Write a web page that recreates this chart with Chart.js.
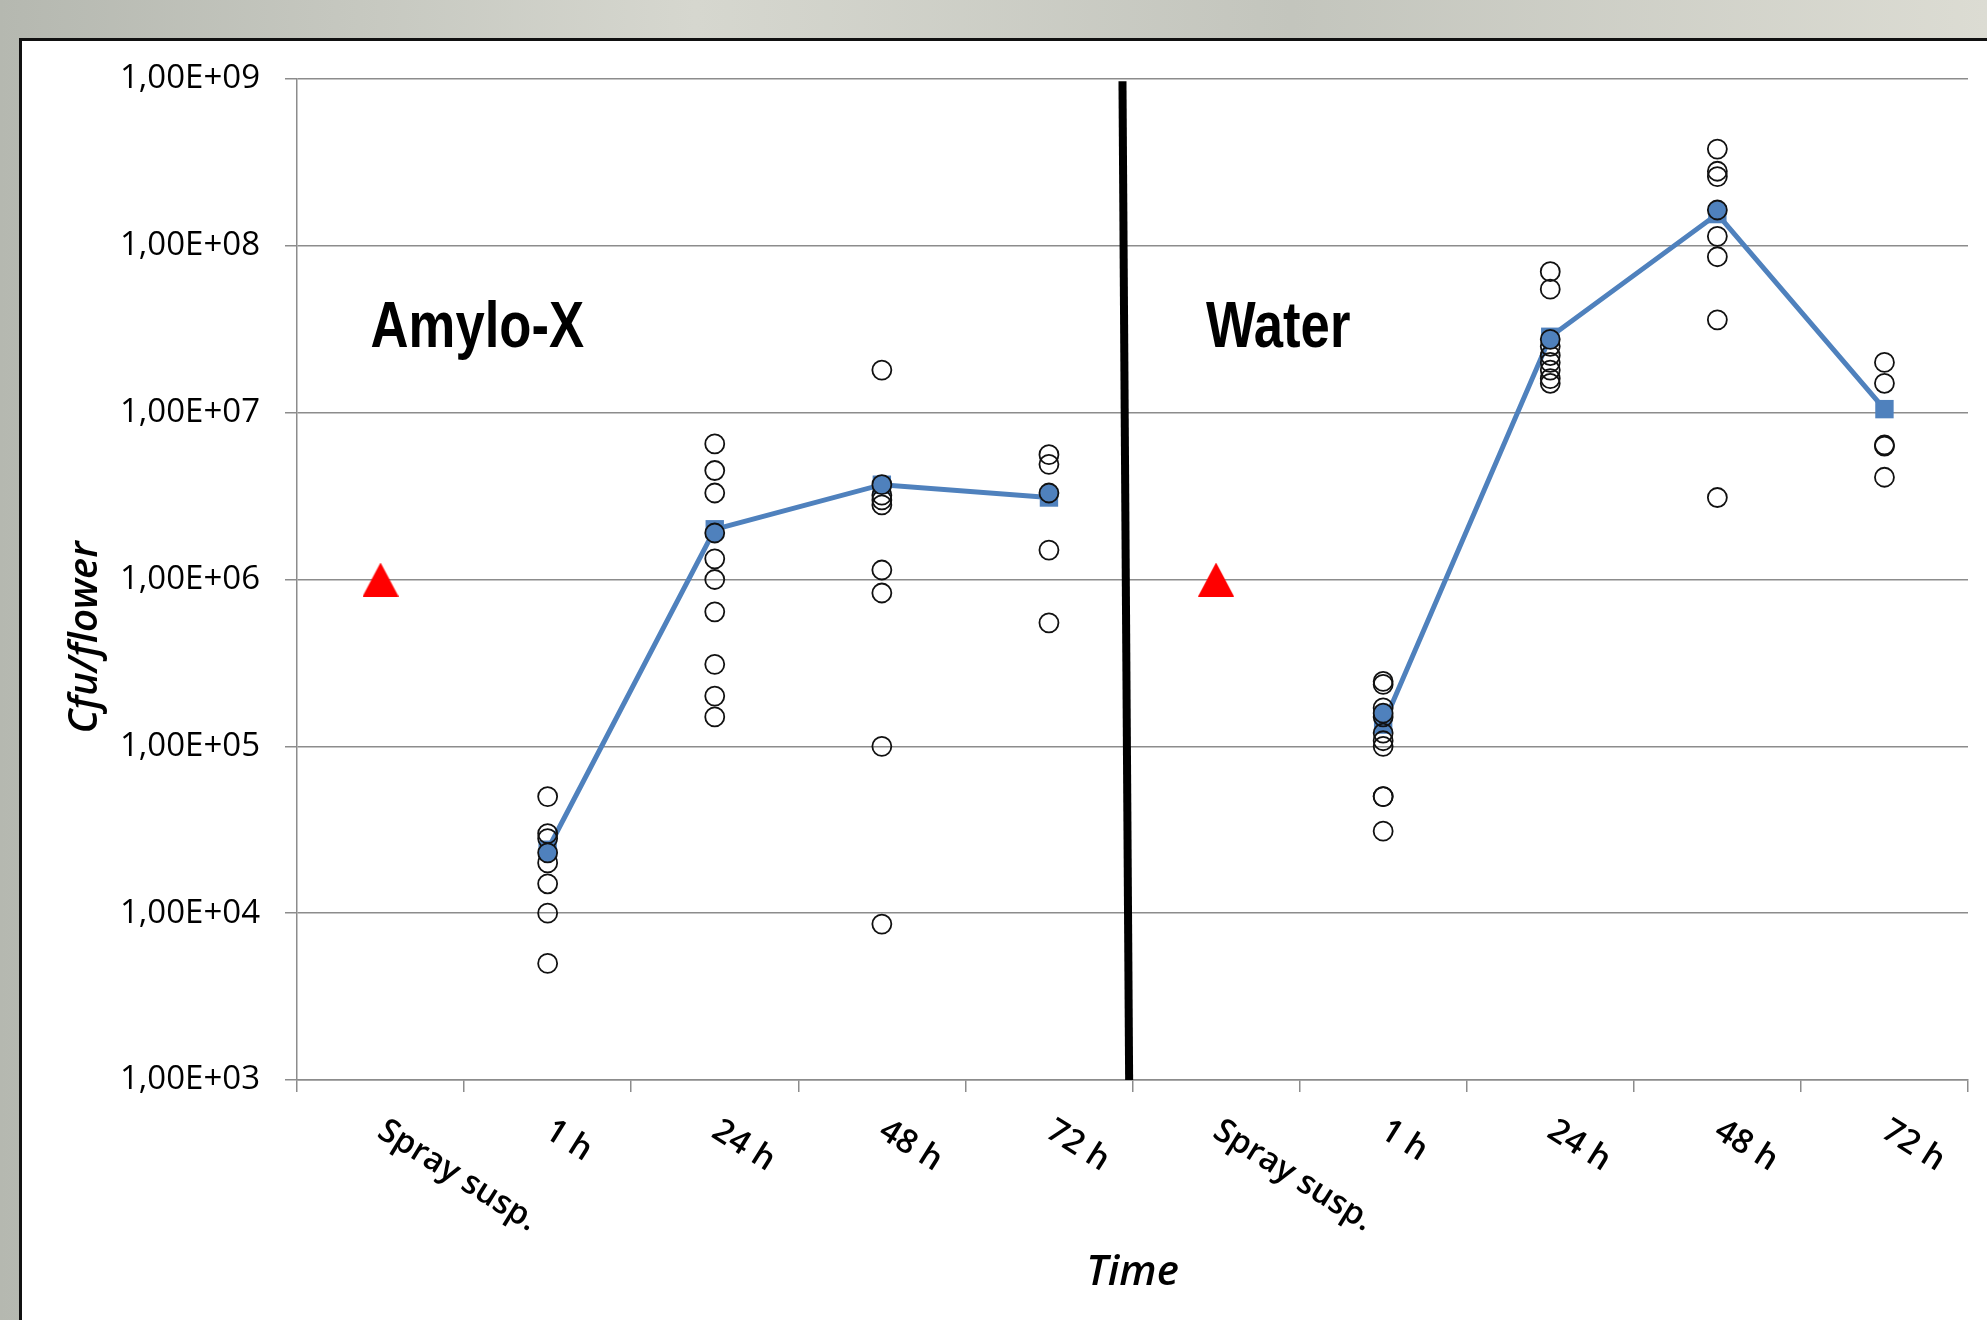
<!DOCTYPE html>
<html>
<head>
<meta charset="utf-8">
<title>Cfu/flower over time</title>
<script src="https://cdn.jsdelivr.net/npm/chart.js@4.4.1/dist/chart.umd.min.js"></script>
<style>
  html, body { margin: 0; padding: 0; width: 1987px; height: 1320px; overflow: hidden; }
  body { background: linear-gradient(90deg, #b5b8b0 0%, #d6d7cf 35%, #c3c5bd 65%, #dcdcd3 100%); }
  #panel { position: absolute; left: 19px; top: 38px; width: 2000px; height: 1400px; background: #fff; border: 3px solid #111; box-sizing: border-box; }
  #chartCanvas { position: absolute; left: 0; top: 0; }
</style>
</head>
<body>
<div id="panel"></div>
<canvas id="chartCanvas" width="1987" height="1320"></canvas>
<script>
// Categories along the x axis (two groups of five)
const categories = ["Spray susp.", "1 h", "24 h", "48 h", "72 h", "Spray susp.", "1 h", "24 h", "48 h", "72 h"];
const groupNames = ["Amylo-X", "Water"];
const groupStart = [0, 5];
const groupLabelValue = 2.47e7;

// Y axis ticks
const yTickValues = [1e3, 1e4, 1e5, 1e6, 1e7, 1e8, 1e9];
const yTickLabels = ["1,00E+03", "1,00E+04", "1,00E+05", "1,00E+06", "1,00E+07", "1,00E+08", "1,00E+09"];

// Spray suspension (red triangles)
const sprayValues = [1e6, null, null, null, null, 1e6, null, null, null, null];

// Single flowers
const amylo1h = [5.0e4, 3.0e4, 2.8e4, 2.0e4, 1.5e4, 1.0e4, 5.0e3];
const amylo24h = [6.5e6, 4.5e6, 3.3e6, 1.33e6, 1.0e6, 6.4e5, 3.1e5, 2.0e5, 1.5e5];
const amylo48h = [1.8e7, 3.2e6, 3.0e6, 2.8e6, 1.14e6, 8.3e5, 1.0e5, 8.6e3];
const amylo72h = [5.6e6, 4.9e6, 1.5e6, 5.5e5];
const water1h = [2.45e5, 2.35e5, 1.7e5, 1.5e5, 1.2e5, 1.08e5, 1.0e5, 5.0e4, 5.0e4, 3.1e4];
const water24h = [7.0e7, 5.5e7, 2.5e7, 2.2e7, 2.0e7, 1.8e7, 1.6e7, 1.5e7];
const water48h = [3.8e8, 2.8e8, 2.6e8, 1.14e8, 8.6e7, 3.6e7, 3.1e6];
const water72h = [2.0e7, 1.5e7, 6.4e6, 6.3e6, 4.1e6];

// Blue filled flower per time point
const highlightValues = [null, 2.3e4, 1.9e6, 3.7e6, 3.3e6, null, 1.58e5, 2.75e7, 1.64e8, null];

// Mean per time point
const meanValues = [null, 2.4e4, 2.0e6, 3.7e6, 3.1e6, null, 1.35e5, 2.85e7, 1.55e8, 1.05e7];

// Divider between the two groups
const dividerX = [4.44, 4.48];
const dividerY = [9.7e8, 1e3];

const gridColor = "#8c8c8c";

const observations = [[], amylo1h, amylo24h, amylo48h, amylo72h, [], water1h, water24h, water48h, water72h];
const obsPoints = observations.flatMap((vals, i) => vals.map(v => ({ x: i, y: v })));
const toPoints = vals => vals.map((v, i) => ({ x: i, y: v }));
const categoryEdges = categories.map((c, i) => i - 0.5).concat(categories.length - 0.5);

// Red triangle marker
function makeTriangle(w, h, color) {
  const c = document.createElement("canvas");
  c.width = w;
  c.height = h;
  const g = c.getContext("2d");
  g.fillStyle = color;
  g.beginPath();
  g.moveTo(w / 2, 0);
  g.lineTo(w, h);
  g.lineTo(0, h);
  g.closePath();
  g.fill();
  return c;
}
const triangle = makeTriangle(36, 34, "#ff0000");

// Group names, slanted category labels and y title
const labelPlugin = {
  id: "labelPlugin",
  afterDraw(chart) {
    const { ctx, chartArea, scales } = chart;
    const xs = scales.x;
    const ys = scales.y;
    ctx.save();
    ctx.fillStyle = "#000";

    ctx.font = "bold 65px 'Liberation Sans', Arial, sans-serif";
    ctx.textAlign = "left";
    ctx.textBaseline = "alphabetic";
    groupNames.forEach((name, i) => {
      ctx.save();
      ctx.translate(xs.getPixelForValue(groupStart[i]) - 10, ys.getPixelForValue(groupLabelValue));
      ctx.scale(0.81, 1);
      ctx.fillText(name, 0, 0);
      ctx.restore();
    });

    ctx.font = "600 33px 'Open Sans', sans-serif";
    ctx.textBaseline = "top";
    categories.forEach((label, i) => {
      ctx.save();
      ctx.translate(xs.getPixelForValue(i) + 9, chartArea.bottom + 34);
      ctx.rotate(32 * Math.PI / 180);
      ctx.fillText(label, 0, 0);
      ctx.restore();
    });

    ctx.font = "italic 600 40px 'Open Sans', sans-serif";
    ctx.textAlign = "center";
    ctx.textBaseline = "middle";
    ctx.translate(86, (chartArea.top + chartArea.bottom) / 2 + 58);
    ctx.rotate(-Math.PI / 2);
    ctx.fillText("Cfu/flower", 0, 0);
    ctx.restore();
  }
};

new Chart(document.getElementById("chartCanvas"), {
  type: "scatter",
  data: {
    datasets: [
      {
        label: "Highlighted flower",
        data: toPoints(highlightValues),
        pointRadius: 9.5,
        pointBackgroundColor: "#4f81bd",
        pointBorderColor: "#111",
        pointBorderWidth: 1.8
      },
      {
        label: "Single flowers",
        data: obsPoints,
        pointRadius: 9.5,
        pointBackgroundColor: "rgba(0,0,0,0)",
        pointBorderColor: "#111",
        pointBorderWidth: 1.8
      },
      {
        type: "line",
        label: "Mean",
        data: toPoints(meanValues),
        borderColor: "#4f81bd",
        borderWidth: 5,
        pointStyle: "rect",
        pointRadius: 13,
        pointBackgroundColor: "#4f81bd",
        pointBorderWidth: 0,
        spanGaps: false,
        tension: 0
      },
      {
        label: "Spray suspension",
        data: toPoints(sprayValues),
        pointStyle: triangle,
        pointRadius: 18
      },
      {
        type: "line",
        label: "Divider",
        data: dividerX.map((v, i) => ({ x: v, y: dividerY[i] })),
        borderColor: "#000",
        borderWidth: 8,
        pointRadius: 0
      }
    ]
  },
  options: {
    responsive: false,
    animation: false,
    events: [],
    layout: { padding: { left: 0, top: 79, right: 15, bottom: 0 } },
    plugins: {
      legend: { display: false },
      tooltip: { enabled: false }
    },
    scales: {
      x: {
        type: "linear",
        min: -0.5,
        max: 9.5,
        afterBuildTicks: scale => { scale.ticks = categoryEdges.map(v => ({ value: v })); },
        afterFit: scale => { scale.height = 240; },
        ticks: { display: false },
        grid: { drawOnChartArea: false, drawTicks: true, tickLength: 12, color: gridColor, lineWidth: 1.5 },
        border: { display: true, color: gridColor, width: 1.5 },
        title: {
          display: true,
          text: "Time",
          color: "#000",
          font: { family: "'Open Sans', sans-serif", size: 42, style: "italic", weight: "600" },
          padding: { top: 0, bottom: 22 }
        }
      },
      y: {
        type: "logarithmic",
        min: 1e3,
        max: 1e9,
        afterBuildTicks: scale => { scale.ticks = yTickValues.map(v => ({ value: v })); },
        afterFit: scale => { scale.width = 297; },
        ticks: {
          callback: (value, index) => yTickLabels[index],
          color: "#000",
          font: { family: "'Open Sans', sans-serif", size: 33, weight: "500" },
          padding: 25,
          autoSkip: false
        },
        grid: { color: gridColor, lineWidth: 1.5, tickLength: 12 },
        border: { color: gridColor, width: 1.5 }
      }
    }
  },
  plugins: [labelPlugin]
});
</script>
</body>
</html>
